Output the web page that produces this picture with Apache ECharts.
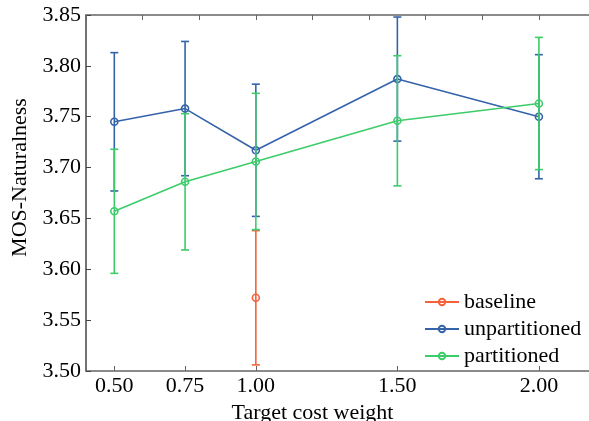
<!DOCTYPE html>
<html>
<head>
<meta charset="utf-8">
<script src="https://cdn.jsdelivr.net/npm/echarts@6/dist/echarts.min.js"></script>
<style>
  html, body { margin: 0; padding: 0; background: #fff; }
  #chart { width: 589px; height: 421px; }
</style>
</head>
<body>
<div id="chart"></div>
<script>
// target cost weights
var weights = [0.5, 0.75, 1.0, 1.5, 2.0];

// baseline only has the 1.00 point
var baselineX = [1.0];
var baselineMean = [3.572];
var baselineLow = [3.506];
var baselineHigh = [3.638];

var unpartMean = [3.745, 3.758, 3.717, 3.787, 3.750];
var unpartLow = [3.677, 3.692, 3.652, 3.726, 3.689];
var unpartHigh = [3.813, 3.824, 3.782, 3.848, 3.811];

var partMean = [3.657, 3.686, 3.706, 3.746, 3.763];
var partLow = [3.596, 3.619, 3.639, 3.682, 3.698];
var partHigh = [3.718, 3.753, 3.773, 3.810, 3.828];

var colors = {
  baseline: '#f4623c',
  unpartitioned: '#3563a9',
  partitioned: '#3dcc6a'
};

var font = "'Liberation Serif', 'Times New Roman', serif";

// plot is cut at the right edge of the picture
var xMin = 0.4;
var xMax = 2.177;

function pairs(xs, ys) {
  return xs.map(function (x, i) { return [x, ys[i]]; });
}

function bars(xs, lo, hi) {
  return xs.map(function (x, i) { return [x, lo[i], hi[i]]; });
}

// error bar: vertical line + two caps
function errorBar(color) {
  return function (params, api) {
    var top = api.coord([api.value(0), api.value(2)]);
    var bot = api.coord([api.value(0), api.value(1)]);
    var w = 4;
    var style = { stroke: color, lineWidth: 1.6 };
    return {
      type: 'group',
      children: [
        { type: 'line', shape: { x1: top[0], y1: top[1], x2: bot[0], y2: bot[1] }, style: style },
        { type: 'line', shape: { x1: top[0] - w, y1: top[1], x2: top[0] + w, y2: top[1] }, style: style },
        { type: 'line', shape: { x1: bot[0] - w, y1: bot[1], x2: bot[0] + w, y2: bot[1] }, style: style }
      ]
    };
  };
}

function lineSeries(name, xs, ys, z) {
  return {
    name: name,
    type: 'line',
    data: pairs(xs, ys),
    z: z + 1,
    symbol: 'circle',
    symbolSize: 7,
    lineStyle: { color: colors[name], width: 1.6 },
    itemStyle: { color: 'transparent', borderColor: colors[name], borderWidth: 1.6 }
  };
}

function barSeries(name, xs, lo, hi, z) {
  return {
    name: name + '-err',
    type: 'custom',
    data: bars(xs, lo, hi),
    z: z,
    renderItem: errorBar(colors[name])
  };
}

var chart = echarts.init(document.getElementById('chart'));
var option = {
  animation: false,
  textStyle: { fontFamily: font },
  grid: { left: 86, top: 15, right: 0, bottom: 50, containLabel: false, outerBoundsMode: 'none' },
  legend: {
    orient: 'vertical',
    left: 419,
    top: 286,
    itemWidth: 34,
    itemHeight: 8,
    itemGap: 5,
    data: ['baseline', 'unpartitioned', 'partitioned'],
    textStyle: { fontFamily: font, fontSize: 22, color: '#000', lineHeight: 22 }
  },
  xAxis: [{
    type: 'value',
    min: xMin,
    max: xMax,
    name: 'Target cost weight',
    nameLocation: 'middle',
    nameGap: 29,
    nameTextStyle: { fontFamily: font, fontSize: 22, color: '#000', padding: [0, 50, 0, 0] },
    splitLine: { show: false },
    axisLine: { lineStyle: { color: '#666', width: 1.5 } },
    axisTick: { inside: true, length: 5, lineStyle: { color: '#666' }, customValues: weights },
    axisLabel: {
      fontFamily: font, fontSize: 22, color: '#000', margin: 4,
      customValues: weights,
      formatter: function (v) { return v.toFixed(2); }
    }
  }, {
    type: 'value',
    position: 'top',
    min: xMin,
    max: xMax,
    interval: 0.2,
    splitLine: { show: false },
    axisLine: { show: true, lineStyle: { color: '#666', width: 1.5 } },
    axisTick: { show: true, inside: true, length: 5, lineStyle: { color: '#666' } },
    axisLabel: { show: false }
  }],
  yAxis: {
    type: 'value',
    min: 3.5,
    max: 3.85,
    interval: 0.05,
    name: 'MOS-Naturalness',
    nameLocation: 'middle',
    nameGap: 53,
    nameRotate: 90,
    nameTextStyle: { fontFamily: font, fontSize: 22, color: '#000', padding: [0, 0, 0, 31] },
    splitLine: { show: false },
    axisLine: { show: true, lineStyle: { color: '#444', width: 1.5 } },
    axisTick: { show: true, inside: true, length: 5, lineStyle: { color: '#444' } },
    axisLabel: {
      fontFamily: font, fontSize: 22, color: '#000', margin: 5,
      formatter: function (v) { return v.toFixed(2); }
    }
  },
  series: [
    barSeries('baseline', baselineX, baselineLow, baselineHigh, 2),
    lineSeries('baseline', baselineX, baselineMean, 2),
    barSeries('unpartitioned', weights, unpartLow, unpartHigh, 4),
    lineSeries('unpartitioned', weights, unpartMean, 4),
    barSeries('partitioned', weights, partLow, partHigh, 6),
    lineSeries('partitioned', weights, partMean, 6)
  ]
};
chart.setOption(option);
</script>
</body>
</html>
